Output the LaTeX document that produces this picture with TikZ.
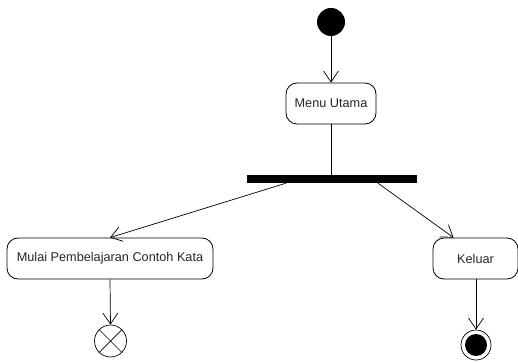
\documentclass[tikz,border=0pt]{standalone}
\usepackage{fontspec}
\setmainfont{Liberation Sans}
\usetikzlibrary{arrows.meta}

\begin{document}
\begin{tikzpicture}[x=1pt,y=1pt,
  every node/.style={inner sep=0pt},
  action/.style={draw, rounded corners=11pt, line width=0.8pt,
    minimum height=41pt, font=\fontsize{12.7}{15}\selectfont, text=black!85},
  flow/.style={line width=0.7pt, -{Straight Barb[length=11pt,width=15pt,line width=0.7pt]}},
  plain/.style={line width=0.7pt}
]
\useasboundingbox (0,0) rectangle (518,-363);

% start, action states, fork bar and the two end markers
\node[circle, fill=black, minimum size=28pt] (start) at (331,-22) {};
\node[action, minimum width=90pt] (menu) at (331,-103.5) {Menu Utama};
\node[fill=black, minimum width=170pt, minimum height=8pt] (bar) at (332,-179) {};
\node[action, minimum width=206pt] (mulai) at (110,-258.5) {Mulai Pembelajaran Contoh Kata};
\node[action, minimum width=85pt] (keluar) at (475.5,-258.5) {Keluar};
\node[circle, draw, line width=0.7pt, minimum size=32pt] (flowend) at (110.5,-341) {};
\draw[plain] (flowend.45) -- (flowend.225) (flowend.135) -- (flowend.315);
\node[circle, draw, line width=0.7pt, minimum size=30pt] (actend) at (476,-345) {};
\node[circle, fill=black, minimum size=22pt] (actendin) at (actend.center) {};

% transitions
\draw[flow] (start.south) -- (menu.north);
\draw[plain] (menu.south) -- (menu.south |- bar.north);
\draw[flow] ([xshift=-46pt]bar.south) -- (mulai.north);
\draw[flow] ([xshift=46pt]bar.south) -- ([xshift=-22pt]keluar.north);
\draw[flow] (mulai.south) -- (flowend.north);
\draw[flow] (keluar.south -| actend.north) -- (actend.north);
\end{tikzpicture}
\end{document}
